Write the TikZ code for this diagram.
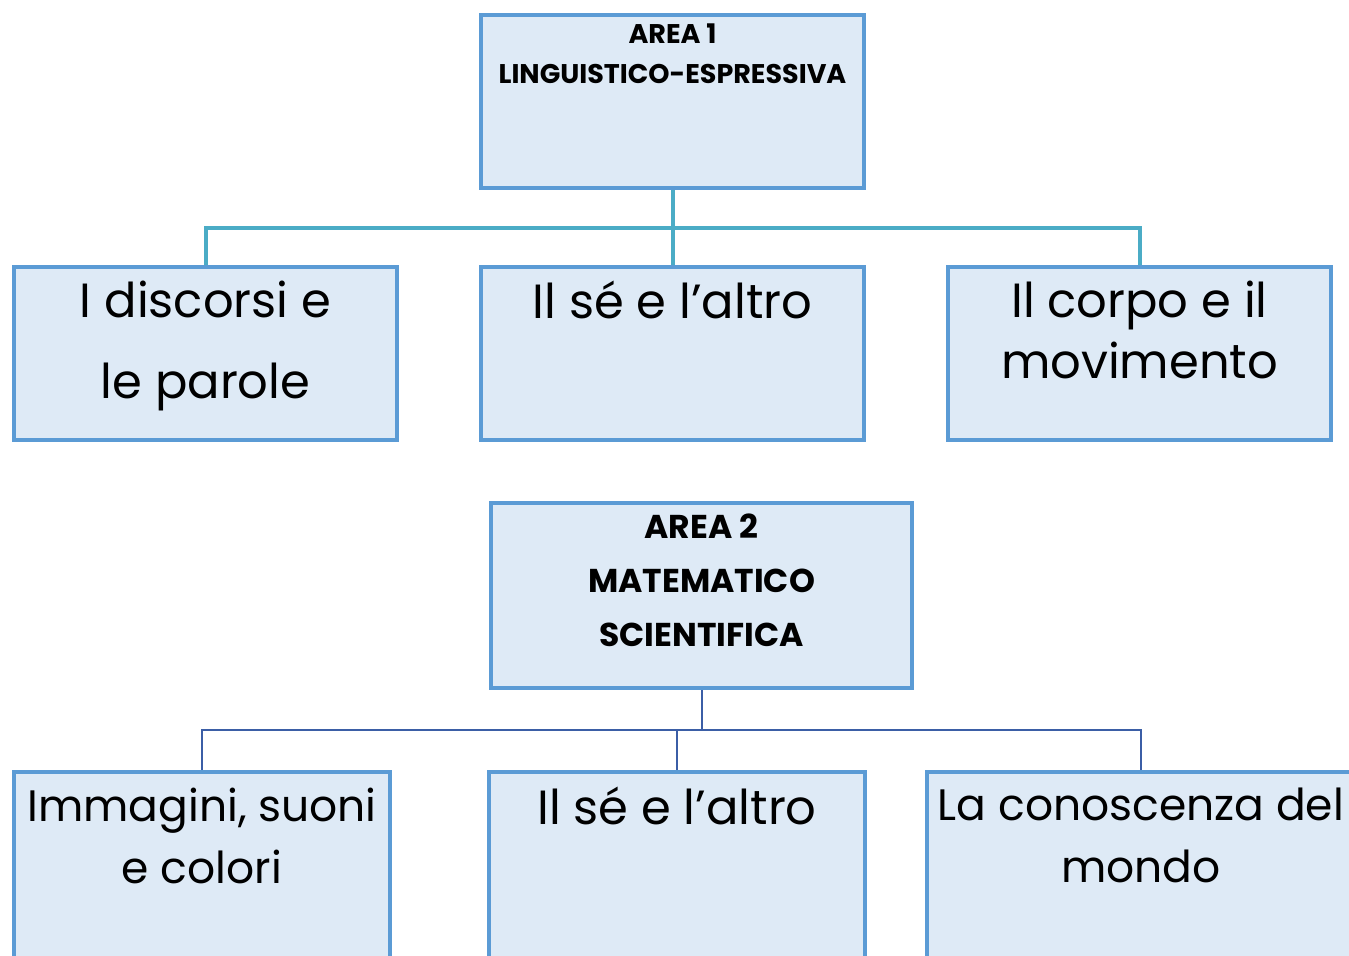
\documentclass[tikz,border=0pt]{standalone}
\usepackage{fontspec}
\setmainfont{Poppins}
\definecolor{boxline}{HTML}{5B9BD5}
\definecolor{boxfill}{HTML}{DEEAF6}
\definecolor{linkteal}{HTML}{4BACC6}
\definecolor{linkblue}{HTML}{3B5EA6}

\begin{document}
\begin{tikzpicture}[
    x=0.5pt, y=-0.5pt,
    box/.style={
      draw=boxline,
      fill=boxfill,
      line width=2pt,
      inner sep=0pt,
      minimum width=191.5pt,
      minimum height=86.5pt
    },
    head/.style={anchor=north, align=center, inner sep=0pt, font=\bfseries\fontsize{13.5pt}{20pt}\selectfont},
    headbig/.style={anchor=north, align=center, inner sep=0pt, font=\bfseries\fontsize{16.5pt}{27pt}\selectfont},
    boxtext/.style={anchor=north, align=center, inner sep=0pt, font=\fontsize{24pt}{31pt}\selectfont},
    linkone/.style={draw=linkteal, line width=2pt},
    linktwo/.style={draw=linkblue, line width=1pt}
  ]
    \useasboundingbox (0,0) rectangle (1349,955);
    \clip (0,0) rectangle (1349,955);

    % area 1
    \node[box] (area1) at (672.5,101.5) {};
    \node[head] (area1t) at (672.5,23) {AREA 1\\LINGUISTICO-ESPRESSIVA};

    \node[box] (discorsi) at (205.5,353.5) {};
    \node[box] (se1) at (672.5,353.5) {};
    \node[box] (corpo) at (1139.5,353.5) {};
    \node[boxtext, font=\fontsize{24pt}{40.5pt}\selectfont] (discorsit) at (205.5,281) {I discorsi e\\le parole};
    \node[boxtext] (se1t) at (672.5,281) {Il sé e l’altro};
    \node[boxtext, font=\fontsize{24pt}{30.5pt}\selectfont] (corpot) at (1139.5,281) {Il corpo e il\\movimento};

    \path (area1.south) ++(0,38) coordinate (bus1);
    \draw[linkone] (area1.south) -- (bus1) -| (discorsi.north);
    \draw[linkone] (bus1) -| (corpo.north);
    \draw[linkone] (bus1) -- (se1.north);

    % area 2
    \node[box, minimum width=210.5pt, minimum height=92.5pt] (area2) at (701.5,595.5) {};
    \node[headbig] (area2t) at (701.5,513) {AREA 2\\MATEMATICO\\SCIENTIFICA};

    \node[box, minimum width=188pt, minimum height=100pt] (immagini) at (202,872) {};
    \node[box, minimum width=188pt, minimum height=100pt] (se2) at (677,872) {};
    \node[box, minimum width=214pt, minimum height=100pt] (mondo) at (1141,872) {};
    \node[boxtext, font=\fontsize{22pt}{31pt}\selectfont] (immaginit) at (202,788) {Immagini, suoni\\e colori};
    \node[boxtext] (se2t) at (677,787) {Il sé e l’altro};
    \node[boxtext, font=\fontsize{22pt}{31pt}\selectfont] (mondot) at (1141,788) {La conoscenza del\\mondo};

    \path (area2.south) ++(0,40) coordinate (bus2);
    \draw[linktwo] (area2.south) -- (bus2) -| (immagini.north);
    \draw[linktwo] (bus2) -| (mondo.north);
    \draw[linktwo] (se2.north |- bus2) -- (se2.north);
  \end{tikzpicture}
\end{document}
